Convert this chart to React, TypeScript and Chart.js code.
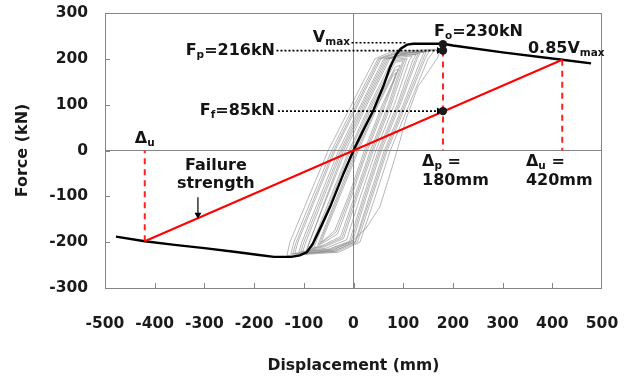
import React, { useEffect, useRef } from "react";
import { Chart, registerables } from "chart.js";

Chart.register(...registerables);

type P = [number, number];

// ---- axis ranges / ticks ----
const xRange = [-500, 500];
const yRange = [-300, 300];
const xStep = 100;
const yStep = 100;

// ---- backbone (envelope) curve ----
const skeleton: P[] = [
  [-478, -188], [-420, -198], [-360, -206], [-300, -213], [-240, -221], [-190, -228],
  [-160, -232], [-125, -232], [-108, -229], [-94, -222], [-82, -204], [-65, -165],
  [-47, -123], [-20, -50], [0, 0], [20, 45], [40, 88], [60, 140], [73, 180],
  [85, 208], [95, 222], [108, 231], [120, 233], [180, 233], [200, 229], [300, 214],
  [420, 198], [478, 190],
];

// ---- hysteresis loops (gray) ----
const loopA: P[] = [[-134, -229], [-128, -200], [-51, 0], [-4, 100], [43, 200], [75, 215], [165, 221], [150, 200], [112, 100], [74, 0], [44, -100], [13, -200], [-30, -222], [-134, -229]];
const loopB: P[] = [[-126, -226], [-120, -200], [-44, 0], [2, 100], [49, 200], [80, 213], [152, 217], [144, 200], [106, 100], [68, 0], [38, -100], [8, -200], [-35, -221], [-126, -226]];
const loopC: P[] = [[-118, -224], [-112, -200], [-37, 0], [9, 100], [55, 200], [86, 211], [142, 214], [136, 200], [100, 100], [62, 0], [32, -100], [3, -200], [-40, -219], [-118, -224]];
const loopD: P[] = [[-110, -222], [-104, -200], [-30, 0], [15, 100], [61, 200], [92, 209], [134, 212], [128, 200], [94, 100], [56, 0], [26, -100], [-2, -200], [-45, -217], [-110, -222]];
const loopE: P[] = [[-102, -220], [-96, -200], [-23, 0], [21, 100], [67, 200], [98, 207], [126, 209], [120, 199], [88, 100], [50, 0], [20, -100], [-8, -198], [-50, -215], [-102, -220]];
const loopF: P[] = [[-95, -218], [-89, -200], [-16, 0], [27, 100], [73, 200], [104, 205], [118, 206], [112, 196], [82, 100], [45, 0], [14, -100], [-14, -195], [-55, -213], [-95, -218]];
const loopG: P[] = [[-88, -216], [-82, -200], [-9, 0], [33, 100], [78, 198], [108, 202], [104, 190], [76, 100], [40, 0], [8, -100], [-20, -192], [-58, -210], [-88, -216]];
const loopH: P[] = [[-80, -212], [-74, -196], [-2, 0], [39, 100], [84, 192], [100, 196], [95, 182], [70, 100], [34, 0], [2, -100], [-26, -188], [-60, -206], [-80, -212]];
const loopI: P[] = [[-72, -207], [-66, -190], [4, 0], [45, 100], [84, 182], [94, 186], [88, 170], [64, 100], [28, 0], [-4, -100], [-32, -182], [-62, -202], [-72, -207]];
const loopJ: P[] = [[-64, -200], [-59, -184], [10, 0], [50, 100], [80, 165], [86, 170], [80, 152], [58, 100], [22, 0], [-10, -100], [-38, -175], [-64, -200]];
const loopK: P[] = [[-96, -226], [-90, -205], [-20, 0], [24, 100], [70, 200], [110, 214], [176, 220], [168, 200], [130, 140], [106, 70], [94, 23], [74, -50], [53, -123], [25, -170], [0, -195], [-40, -217], [-96, -226]];
const loopL: P[] = [[-122, -225], [-116, -202], [-40, 0], [6, 100], [52, 200], [84, 212], [146, 215], [140, 199], [103, 100], [65, 0], [35, -100], [5, -198], [-38, -220], [-122, -225]];
const loopM: P[] = [[-106, -221], [-100, -200], [-26, 0], [18, 100], [64, 200], [95, 208], [130, 210], [124, 198], [91, 100], [53, 0], [23, -100], [-5, -199], [-48, -216], [-106, -221]];
const loopN: P[] = [[-84, -214], [-78, -198], [-6, 0], [36, 100], [81, 195], [104, 199], [99, 186], [73, 100], [37, 0], [5, -100], [-23, -190], [-59, -208], [-84, -214]];
const loopO: P[] = [[-68, -204], [-63, -188], [7, 0], [48, 100], [82, 174], [90, 178], [84, 161], [61, 100], [25, 0], [-7, -100], [-35, -178], [-68, -204]];
const hysteresisLoops: P[][] = [loopA, loopB, loopC, loopD, loopE, loopF, loopG, loopH, loopI, loopJ, loopK, loopL, loopM, loopN, loopO];

// ---- failure strength line & key points ----
const failureLine: P[] = [[-420, -198], [420, 198]];
const dropDeltaP: P[] = [[180, 218], [180, 0]];
const dropDeltaU: P[] = [[420, 198], [420, 0]];
const dropDeltaUneg: P[] = [[-420, -198], [-420, 0]];
const vmaxGuide: P[] = [[-4, 235], [108, 235]];
const fpGuide: P[] = [[-155, 218], [172, 218]];
const ffGuide: P[] = [[-152, 86], [172, 86]];
const failureArrow: P[] = [[-313, -102], [-313, -140]];
const keyPoints: P[] = [[180, 232], [180, 218], [180, 86]];

const FONT = '"DejaVu Sans", sans-serif';

const toXY = (pts: P[]) => pts.map(([x, y]) => ({ x, y }));

type Part = [string, boolean];

function drawParts(ctx: CanvasRenderingContext2D, parts: Part[], x: number, y: number, align: string) {
  const main = `bold 16px ${FONT}`;
  const sub = `bold 10.5px ${FONT}`;
  let total = 0;
  for (const [t, s] of parts) {
    ctx.font = s ? sub : main;
    total += ctx.measureText(t).width;
  }
  let cx = align === "right" ? x - total : align === "center" ? x - total / 2 : x;
  ctx.textAlign = "left";
  ctx.textBaseline = "alphabetic";
  for (const [t, s] of parts) {
    ctx.font = s ? sub : main;
    ctx.fillText(t, cx, s ? y + 3 : y);
    cx += ctx.measureText(t).width;
  }
}

const annotations: { parts: Part[]; x: number; y: number; align: string }[] = [
  { parts: [["V", false], ["max", true]], x: -7, y: 237.5, align: "right" },
  { parts: [["F", false], ["p", true], ["=216kN", false]], x: -158, y: 208.5, align: "right" },
  { parts: [["F", false], ["f", true], ["=85kN", false]], x: -158, y: 77.5, align: "right" },
  { parts: [["F", false], ["o", true], ["=230kN", false]], x: 162, y: 250, align: "left" },
  { parts: [["0.85V", false], ["max", true]], x: 351, y: 212, align: "left" },
  { parts: [["Δ", false], ["u", true]], x: -440, y: 16, align: "left" },
  { parts: [["Failure", false]], x: -277, y: -42.6, align: "center" },
  { parts: [["strength", false]], x: -277, y: -82, align: "center" },
  { parts: [["Δ", false], ["p", true], [" =", false]], x: 138, y: -34, align: "left" },
  { parts: [["180mm", false]], x: 138, y: -75, align: "left" },
  { parts: [["Δ", false], ["u", true], [" =", false]], x: 347, y: -34, align: "left" },
  { parts: [["420mm", false]], x: 347, y: -75, align: "left" },
];

const framePlugin = {
  id: "frame",
  beforeDatasetsDraw(chart: any) {
    const { ctx, chartArea } = chart;
    const { left, right, top, bottom } = chartArea;
    const xs = chart.scales.x;
    const ys = chart.scales.y;
    ctx.save();
    ctx.strokeStyle = "#858585";
    ctx.lineWidth = 1;
    ctx.strokeRect(Math.round(left) + 0.5, Math.round(top) + 0.5, Math.round(right - left) - 1, Math.round(bottom - top));
    ctx.beginPath();
    for (let v = xRange[0] + xStep; v < xRange[1]; v += xStep) {
      const px = Math.round(xs.getPixelForValue(v)) + 0.5;
      ctx.moveTo(px, bottom);
      ctx.lineTo(px, bottom - 5);
    }
    for (let v = yRange[0] + yStep; v < yRange[1]; v += yStep) {
      const py = Math.round(ys.getPixelForValue(v)) + 0.5;
      ctx.moveTo(left, py);
      ctx.lineTo(left + 5, py);
    }
    ctx.stroke();
    ctx.restore();
  },
  afterDatasetsDraw(chart: any) {
    const { ctx } = chart;
    const xs = chart.scales.x;
    const ys = chart.scales.y;
    ctx.save();
    ctx.fillStyle = "#141414";
    for (const a of annotations) {
      drawParts(ctx, a.parts, xs.getPixelForValue(a.x), ys.getPixelForValue(a.y), a.align);
    }
    ctx.restore();
  },
};

export default function App() {
  const ref = useRef<HTMLCanvasElement | null>(null);

  useEffect(() => {
    if (!ref.current) return;

    const line = (pts: P[], color: string, width: number, extra: any = {}) => ({
      data: toXY(pts),
      showLine: true,
      borderColor: color,
      backgroundColor: color,
      borderWidth: width,
      pointRadius: 0,
      pointHoverRadius: 0,
      tension: 0,
      fill: false,
      ...extra,
    });

    const arrowLine = (pts: P[], rot: number, width: number, dash: number[]) =>
      line(pts, "#000", width, {
        borderDash: dash,
        pointStyle: "triangle",
        pointRotation: rot,
        pointRadius: pts.map((_, i) => (i === pts.length - 1 ? 4 : 0)),
        pointBorderWidth: 0,
      });

    const datasets: any[] = [
      {
        data: toXY(keyPoints),
        showLine: false,
        pointRadius: 4.2,
        pointBackgroundColor: "#1a1a1a",
        pointBorderColor: "#1a1a1a",
        pointBorderWidth: 0,
      },
      arrowLine(fpGuide, 90, 1.6, [2, 2]),
      arrowLine(ffGuide, 90, 1.6, [2, 2]),
      line(vmaxGuide, "#000", 1.6, { borderDash: [2, 2] }),
      arrowLine(failureArrow, 180, 1.2, []),
      line(failureLine, "#ff0000", 2),
      line(dropDeltaP, "#ff2020", 2, { borderDash: [6, 5] }),
      line(dropDeltaU, "#ff2020", 2, { borderDash: [6, 5] }),
      line(dropDeltaUneg, "#ff2020", 2, { borderDash: [6, 5] }),
      line(skeleton, "#000", 2.4),
      ...hysteresisLoops.map((lp) => line(lp, "rgba(125,125,125,0.7)", 0.8)),
    ];

    const chart = new Chart(ref.current, {
      type: "scatter",
      data: { datasets },
      options: {
        animation: false,
        responsive: false,
        maintainAspectRatio: false,
        events: [],
        layout: { padding: { top: 13, right: 27, left: 0, bottom: 0 } },
        plugins: { legend: { display: false }, tooltip: { enabled: false } },
        scales: {
          x: {
            type: "linear",
            min: xRange[0],
            max: xRange[1],
            ticks: {
              stepSize: xStep,
              color: "#1a1a1a",
              font: { family: FONT, size: 15.5, weight: "bold" },
              padding: 27,
              maxRotation: 0,
            },
            grid: {
              drawTicks: false,
              color: (c: any) => (c.tick && c.tick.value === 0 ? "#858585" : "rgba(0,0,0,0)"),
              lineWidth: 1,
            },
            border: { display: false },
            title: {
              display: true,
              text: "Displacement (mm)",
              color: "#1a1a1a",
              font: { family: FONT, size: 15.6, weight: "bold" },
              padding: { top: 0, bottom: 5 },
            },
            afterFit: (s: any) => {
              s.height = 92;
              s.paddingLeft = 0;
              s.paddingRight = 0;
            },
          },
          y: {
            type: "linear",
            min: yRange[0],
            max: yRange[1],
            ticks: {
              stepSize: yStep,
              color: "#1a1a1a",
              font: { family: FONT, size: 15.5, weight: "bold" },
              padding: 17,
            },
            grid: {
              drawTicks: false,
              color: (c: any) => (c.tick && c.tick.value === 0 ? "#858585" : "rgba(0,0,0,0)"),
              lineWidth: 1,
            },
            border: { display: false },
            title: {
              display: true,
              text: "Force (kN)",
              color: "#1a1a1a",
              font: { family: FONT, size: 16, weight: "bold" },
              padding: { top: 13, bottom: 0 },
            },
            afterFit: (s: any) => {
              s.width = 105;
              s.paddingTop = 0;
              s.paddingBottom = 0;
            },
          },
        },
      },
      plugins: [framePlugin],
    });

    return () => chart.destroy();
  }, []);

  return (
    <canvas
      ref={ref}
      width={629}
      height={380}
      style={{ position: "fixed", left: 0, top: 0, width: 629, height: 380, display: "block", background: "#fff" }}
    />
  );
}
